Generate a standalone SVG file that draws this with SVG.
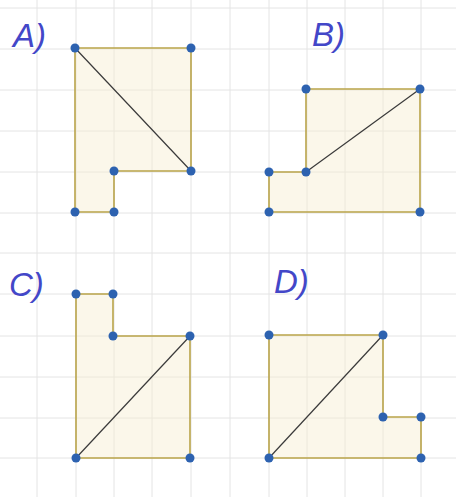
<svg xmlns="http://www.w3.org/2000/svg" width="456" height="497" viewBox="0 0 456 497">
<defs>
<style>
.grid line{stroke:#e4e4e4;stroke-width:1}
.shape{fill:#f6eed0;fill-opacity:0.45;stroke:#b9a44a;stroke-width:1.6;stroke-linejoin:miter}
.diag{stroke:#3a3a3a;stroke-width:1.2}
.dot{fill:#2d62b0}
.lbl{font-family:"Liberation Sans",Arial,sans-serif;font-size:33px;fill:#4347c8;font-style:italic}
</style>
</defs>
<rect width="456" height="497" fill="#ffffff"/>
<g class="grid">
<line x1="37" y1="0" x2="37" y2="497"/>
<line x1="76" y1="0" x2="76" y2="497"/>
<line x1="114" y1="0" x2="114" y2="497"/>
<line x1="152" y1="0" x2="152" y2="497"/>
<line x1="191" y1="0" x2="191" y2="497"/>
<line x1="230" y1="0" x2="230" y2="497"/>
<line x1="269" y1="0" x2="269" y2="497"/>
<line x1="307" y1="0" x2="307" y2="497"/>
<line x1="345" y1="0" x2="345" y2="497"/>
<line x1="383" y1="0" x2="383" y2="497"/>
<line x1="421" y1="0" x2="421" y2="497"/>
<line x1="0" y1="8" x2="456" y2="8"/>
<line x1="0" y1="49" x2="456" y2="49"/>
<line x1="0" y1="90" x2="456" y2="90"/>
<line x1="0" y1="131" x2="456" y2="131"/>
<line x1="0" y1="172" x2="456" y2="172"/>
<line x1="0" y1="213" x2="456" y2="213"/>
<line x1="0" y1="253" x2="456" y2="253"/>
<line x1="0" y1="294" x2="456" y2="294"/>
<line x1="0" y1="336" x2="456" y2="336"/>
<line x1="0" y1="377" x2="456" y2="377"/>
<line x1="0" y1="418" x2="456" y2="418"/>
<line x1="0" y1="458" x2="456" y2="458"/>
</g>
<g id="figA">
<polygon class="shape" points="75,48 191,48 191,171 114,171 114,212 75,212"/>
<line class="diag" x1="75" y1="48" x2="191" y2="171"/>
<circle class="dot" cx="75" cy="48" r="4.5"/>
<circle class="dot" cx="191" cy="48" r="4.5"/>
<circle class="dot" cx="191" cy="171" r="4.5"/>
<circle class="dot" cx="114" cy="171" r="4.5"/>
<circle class="dot" cx="114" cy="212" r="4.5"/>
<circle class="dot" cx="75" cy="212" r="4.5"/>
<text class="lbl" x="13" y="47">A)</text>
</g>
<g id="figB">
<polygon class="shape" points="306,89 420,89 420,212 269,212 269,172 306,172"/>
<line class="diag" x1="306" y1="172" x2="420" y2="89"/>
<circle class="dot" cx="306" cy="89" r="4.5"/>
<circle class="dot" cx="420" cy="89" r="4.5"/>
<circle class="dot" cx="420" cy="212" r="4.5"/>
<circle class="dot" cx="269" cy="212" r="4.5"/>
<circle class="dot" cx="269" cy="172" r="4.5"/>
<circle class="dot" cx="306" cy="172" r="4.5"/>
<text class="lbl" x="312" y="46">B)</text>
</g>
<g id="figC">
<polygon class="shape" points="76,294 113,294 113,336 190,336 190,458 76,458"/>
<line class="diag" x1="76" y1="458" x2="190" y2="336"/>
<circle class="dot" cx="76" cy="294" r="4.5"/>
<circle class="dot" cx="113" cy="294" r="4.5"/>
<circle class="dot" cx="113" cy="336" r="4.5"/>
<circle class="dot" cx="190" cy="336" r="4.5"/>
<circle class="dot" cx="190" cy="458" r="4.5"/>
<circle class="dot" cx="76" cy="458" r="4.5"/>
<text class="lbl" x="9" y="296">C)</text>
</g>
<g id="figD">
<polygon class="shape" points="269,335 383,335 383,417 421,417 421,458 269,458"/>
<line class="diag" x1="269" y1="458" x2="383" y2="335"/>
<circle class="dot" cx="269" cy="335" r="4.5"/>
<circle class="dot" cx="383" cy="335" r="4.5"/>
<circle class="dot" cx="383" cy="417" r="4.5"/>
<circle class="dot" cx="421" cy="417" r="4.5"/>
<circle class="dot" cx="421" cy="458" r="4.5"/>
<circle class="dot" cx="269" cy="458" r="4.5"/>
<text class="lbl" x="274" y="293">D)</text>
</g>
</svg>
